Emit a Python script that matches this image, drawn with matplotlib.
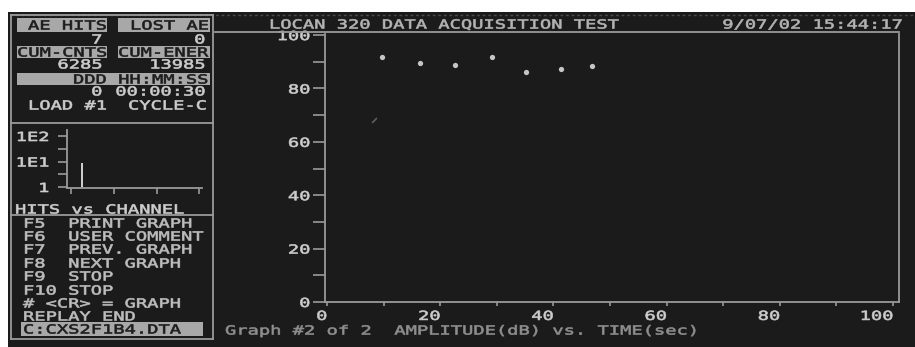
import matplotlib
matplotlib.use('Agg')
import matplotlib.pyplot as plt
from matplotlib import patheffects
from matplotlib.patches import Rectangle
from matplotlib.lines import Line2D
from matplotlib.transforms import Affine2D

# screen size in pixels (figure is drawn at 100 dpi)
W, H = 915, 347

BG = '#1b1b1b'
FG = '#cdcdcd'
MENU = '#bdbdbd'
DIM = '#8e8e8e'
HL = '#a8a8a8'
INK = '#1c1c1c'
LINE = '#9a9a9a'
FS = 9
SX = 1.5   # DOS font is wide -> stretch the mono glyphs

# ---- data ----
time_sec = [9.7, 16.5, 22.6, 29.2, 35.1, 41.3, 46.9]
amplitude_db = [91.6, 89.4, 88.9, 91.6, 86.3, 87.4, 88.5]
stray_time = [8.3]
stray_amp = [68.2]

x_major = [0, 20, 40, 60, 80, 100]
x_minor = [10, 30, 50, 70, 90]
y_major = [0, 20, 40, 60, 80, 100]
y_minor = [10, 30, 50, 70, 90]

channels = [1]
channel_hits = [9]
log_ticks = [1, 10, 100]
log_tick_labels = ['1', '1E1', '1E2']
log_minor = [3.16, 31.6]
channel_ticks = [0, 4, 8, 12]

menu_lines = ['F5  PRINT GRAPH', 'F6  USER COMMENT', 'F7  PREV. GRAPH',
              'F8  NEXT GRAPH', 'F9  STOP', 'F10 STOP', '# <CR> = GRAPH',
              'REPLAY END']
menu_rows = [223, 236, 249, 263, 276, 290, 303, 316]


class Stretch(patheffects.AbstractPathEffect):
    """widen glyphs horizontally (around left / center / right edge) and thicken a bit"""
    def __init__(self, sx, anchor='left', stroke=0.45):
        super().__init__()
        self.sx = sx
        self.anchor = anchor
        self.stroke = stroke

    def draw_path(self, renderer, gc, tpath, affine, rgbFace=None):
        ext = tpath.get_extents()
        x0 = {'left': 0, 'center': (ext.x0 + ext.x1) / 2, 'right': ext.x1}[self.anchor]
        t = Affine2D().translate(-x0, 0).scale(self.sx, 1).translate(x0, 0)
        gc0 = renderer.new_gc()
        gc0.copy_properties(gc)
        gc0.set_linewidth(self.stroke)
        gc0.set_foreground(rgbFace)
        renderer.draw_path(gc0, tpath, t + affine, rgbFace)
        gc0.restore()


def fx(x):
    return x / W


def fy(y):
    return 1 - y / H


def put(x, y, s, ha='left', color=FG):
    fig.text(fx(x), fy(y + 4.5), s, ha=ha, va='baseline', color=color,
             fontsize=FS, path_effects=[Stretch(SX, ha)])


def hline(x0, x1, y, **kw):
    fig.add_artist(Line2D([fx(x0), fx(x1)], [fy(y), fy(y)], transform=fig.transFigure, **kw))


def vline(x, y0, y1, **kw):
    fig.add_artist(Line2D([fx(x), fx(x)], [fy(y0), fy(y1)], transform=fig.transFigure, **kw))


def box(x0, y0, x1, y1, color):
    fig.add_artist(Rectangle((fx(x0), fy(y1)), fx(x1) - fx(x0), fy(y0) - fy(y1),
                             transform=fig.transFigure, color=color, lw=0, zorder=0.5))


plt.rcParams['font.family'] = 'DejaVu Sans Mono'

fig = plt.figure(figsize=(W / 100, H / 100), dpi=100, facecolor='white')

# dark monitor area
fig.add_artist(Rectangle((fx(8), 0), 1 - fx(8), fy(12), transform=fig.transFigure,
                         color=BG, lw=0, zorder=-10))
hline(10, 915, 14.5, color='#4a4a4a', lw=1, ls=(0, (2, 2)))

# ---- left status panel ----
lw = 1.3
hline(11, 213, 15, color=LINE, lw=lw)
hline(11, 213, 339, color=LINE, lw=lw)
vline(11, 15, 339, color=LINE, lw=lw)
vline(213, 15, 339, color=LINE, lw=lw)
hline(11, 213, 123, color=LINE, lw=lw)
hline(11, 213, 215, color=LINE, lw=lw)

box(17, 18, 107, 32, HL)
box(118, 18, 210, 32, HL)
box(17, 46, 107, 58, HL)
box(118, 46, 210, 58, HL)
box(17, 73, 210, 85, HL)
box(21, 322, 203, 336, HL)

put(28, 25, 'AE HITS', color=INK)
put(130, 25, 'LOST AE', color=INK)
put(102, 39, '7', ha='right')
put(205, 39, '0', ha='right')
put(17, 52, 'CUM-CNTS', color=INK)
put(118, 52, 'CUM-ENER', color=INK)
put(102, 64, '6285', ha='right')
put(205, 64, '13985', ha='right')
put(73, 79, 'DDD HH:MM:SS', color=INK)
put(102, 91, '0', ha='right')
put(205, 91, '00:00:30', ha='right')
put(28, 105, 'LOAD #1')
put(128, 105, 'CYCLE-C')
put(15, 209, 'HITS vs CHANNEL')
for s, row in zip(menu_lines, menu_rows):
    put(23, row, s, color=MENU)
put(23, 329, 'C:CXS2F1B4.DTA', color=INK)

# hits vs channel mini plot (log)
lax = fig.add_axes([fx(67), fy(188), fx(202) - fx(67), fy(130) - fy(188)])
lax.set_facecolor('none')
lax.set_yscale('log')
log_floor = 0.914
lax.set_xlim(-0.37, 12.24)
lax.set_ylim(log_floor, 172)
lax.bar(channels, [h - log_floor for h in channel_hits], bottom=log_floor,
        width=0.18, color=FG, lw=0)
lax.set_yticks(log_ticks, log_tick_labels)
lax.set_yticks(log_minor, minor=True)
lax.set_xticks(channel_ticks)
lax.set_xticks([], minor=True)
lax.tick_params(which='both', colors=LINE, labelcolor=FG, labelsize=FS, width=1.2)
lax.tick_params(axis='y', which='both', length=6.5, pad=6.5)
lax.tick_params(axis='y', which='minor', labelleft=False)
lax.tick_params(axis='x', length=4.5, labelbottom=False)
for sp in ['top', 'right']:
    lax.spines[sp].set_visible(False)
for sp in ['left', 'bottom']:
    lax.spines[sp].set_color(LINE)
    lax.spines[sp].set_linewidth(lw)
for t in lax.get_yticklabels():
    t.set_path_effects([Stretch(SX, 'right')])

# ---- main graph ----
# title anchored on its right end so its box stays clear of the "100" label
put(618, 24, 'LOCAN 320 DATA ACQUISITION TEST', ha='right', color='#b4b4b4')
put(902, 24, '9/07/02 15:44:17', ha='right', color='#b4b4b4')
hline(215, 899, 32, color=LINE, lw=lw)
put(225, 330, 'Graph #2 of 2  AMPLITUDE(dB) vs. TIME(sec)', color=DIM)

ax = fig.add_axes([fx(325), fy(302), fx(899) - fx(325), fy(34) - fy(302)])
ax.set_facecolor('none')
ax.set_xlim(-0.35, 101.06)
ax.set_ylim(0, 100.4)
ax.plot(time_sec, amplitude_db, ls='none', marker='o', ms=3.8, color='#c6c6c6', mec='none')
ax.plot(stray_time, stray_amp, ls='none', marker=(2, 0, -45), ms=5, mec='#5e5e5e', mew=1.2)

ax.set_xticks(x_major, [str(v) for v in x_major], ha='right')
ax.set_xticks(x_minor, minor=True)
ax.set_yticks(y_major, [str(v) for v in y_major])
ax.set_yticks(y_minor, minor=True)
ax.tick_params(which='both', colors=LINE, labelcolor=FG, labelsize=FS, width=1.2)
ax.tick_params(axis='y', which='both', length=8.6, pad=2.2)
ax.tick_params(axis='x', which='both', length=3.2, pad=2.5)
ax.spines['top'].set_visible(False)
for sp in ['left', 'bottom', 'right']:
    ax.spines[sp].set_color(LINE)
    ax.spines[sp].set_linewidth(lw)
for t in ax.get_yticklabels() + ax.get_xticklabels():
    t.set_path_effects([Stretch(SX, 'right')])

fig.savefig('out.png', dpi=100, facecolor=fig.get_facecolor())
